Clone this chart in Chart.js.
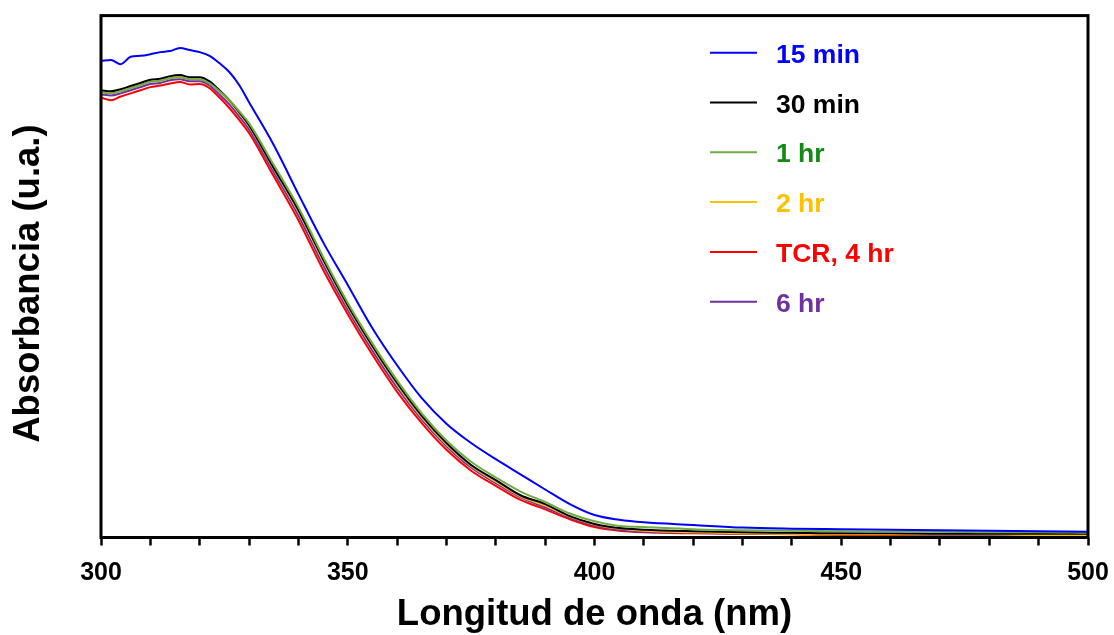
<!DOCTYPE html>
<html lang="es">
<head>
<meta charset="utf-8">
<title>Absorbancia UV-Vis</title>
<script src="https://cdn.jsdelivr.net/npm/chart.js@4.4.1/dist/chart.umd.min.js"></script>
<style>
    html, body { margin: 0; padding: 0; background: #fff; }
    #contenedor { width: 1114px; height: 635px; position: relative; }
</style>
</head>
<body>
<div id="contenedor"><canvas id="espectro"></canvas></div>
<script>
// Longitudes de onda (nm)
var longitudes = [300, 302, 304, 306, 308, 310, 312, 314, 316, 318, 320, 322, 324, 326, 328, 330,
    335, 340, 345, 350, 355, 360, 365, 370, 375, 380, 385, 390, 395, 400, 405, 410,
    420, 430, 440, 450, 460, 470, 480, 490, 500];

// Absorbancia (u.a.) de cada muestra
var abs15min = [0.913, 0.915, 0.907, 0.921, 0.923, 0.926, 0.930, 0.932, 0.938, 0.934, 0.930, 0.923, 0.909, 0.892, 0.867, 0.834,
    0.752, 0.658, 0.566, 0.484, 0.401, 0.330, 0.267, 0.218, 0.181, 0.150, 0.121, 0.092, 0.064, 0.043, 0.034, 0.029,
    0.024, 0.019, 0.017, 0.016, 0.015, 0.014, 0.013, 0.012, 0.011];
var abs30min = [0.857, 0.855, 0.859, 0.865, 0.871, 0.877, 0.879, 0.884, 0.886, 0.882, 0.882, 0.874, 0.857, 0.838, 0.815, 0.790,
    0.708, 0.627, 0.533, 0.445, 0.367, 0.296, 0.233, 0.181, 0.139, 0.110, 0.081, 0.064, 0.041, 0.026, 0.018, 0.015,
    0.012, 0.010, 0.009, 0.008, 0.008, 0.007, 0.007, 0.007, 0.007];
var abs1hr = [0.853, 0.851, 0.855, 0.861, 0.867, 0.873, 0.875, 0.880, 0.882, 0.878, 0.878, 0.870, 0.855, 0.838, 0.817, 0.794,
    0.714, 0.633, 0.538, 0.450, 0.372, 0.301, 0.238, 0.186, 0.145, 0.115, 0.088, 0.068, 0.046, 0.031, 0.022, 0.020,
    0.016, 0.014, 0.013, 0.012, 0.011, 0.011, 0.010, 0.010, 0.009];
var abs2hr = [0.855, 0.852, 0.857, 0.862, 0.869, 0.875, 0.877, 0.882, 0.884, 0.880, 0.880, 0.872, 0.855, 0.836, 0.813, 0.788,
    0.706, 0.624, 0.530, 0.442, 0.364, 0.293, 0.230, 0.178, 0.137, 0.107, 0.079, 0.061, 0.040, 0.025, 0.017, 0.013,
    0.010, 0.008, 0.007, 0.006, 0.006, 0.006, 0.006, 0.005, 0.005];
var abs4hr = [0.843, 0.838, 0.845, 0.851, 0.857, 0.863, 0.866, 0.870, 0.873, 0.868, 0.869, 0.861, 0.843, 0.823, 0.800, 0.775,
    0.692, 0.608, 0.513, 0.428, 0.350, 0.279, 0.219, 0.168, 0.128, 0.099, 0.072, 0.054, 0.035, 0.020, 0.013, 0.010,
    0.008, 0.007, 0.006, 0.005, 0.005, 0.004, 0.004, 0.003, 0.003];
var abs6hr = [0.849, 0.847, 0.851, 0.857, 0.863, 0.869, 0.871, 0.876, 0.878, 0.874, 0.874, 0.866, 0.849, 0.830, 0.807, 0.782,
    0.700, 0.617, 0.522, 0.436, 0.358, 0.287, 0.226, 0.175, 0.134, 0.104, 0.077, 0.058, 0.038, 0.023, 0.015, 0.011,
    0.009, 0.008, 0.007, 0.006, 0.006, 0.005, 0.005, 0.004, 0.004];

// Etiquetas de la leyenda
var etiquetas = ['15 min', '30 min', '1 hr', '2 hr', 'TCR, 4 hr', '6 hr'];

var fuente = "'Liberation Sans', Arial, sans-serif";

// Construye los puntos {x, y} de cada serie
function puntos(valores) {
    return longitudes.map(function (l, i) {
        return { x: l, y: valores[i] };
    });
}

function serie(i, valores, color, colorTexto, orden) {
    return {
        label: etiquetas[i],
        data: puntos(valores),
        borderColor: color,
        colorTexto: colorTexto,
        borderWidth: 2,
        pointRadius: 0,
        cubicInterpolationMode: 'monotone',
        fill: false,
        order: orden
    };
}

// Leyenda dibujada dentro del área del gráfico
var leyendaInterna = {
    id: 'leyendaInterna',
    afterDraw: function (chart) {
        var ctx = chart.ctx;
        var opt = chart.options.plugins.leyendaInterna;
        ctx.save();
        ctx.font = 'bold 26.5px ' + fuente;
        ctx.textBaseline = 'alphabetic';
        ctx.textAlign = 'left';
        chart.data.datasets.forEach(function (ds, i) {
            var y = opt.y0 + i * opt.paso;
            ctx.strokeStyle = ds.borderColor;
            ctx.lineWidth = 2;
            ctx.beginPath();
            ctx.moveTo(opt.x0, y);
            ctx.lineTo(opt.x0 + opt.largo, y);
            ctx.stroke();
            ctx.fillStyle = ds.colorTexto;
            ctx.fillText(ds.label, opt.xTexto, y + 10);
        });
        ctx.restore();
    }
};

// Marco negro alrededor del área y título vertical del eje Y
var marco = {
    id: 'marco',
    afterDatasetsDraw: function (chart) {
        var a = chart.chartArea;
        var ctx = chart.ctx;
        ctx.save();
        ctx.strokeStyle = '#000';
        ctx.lineWidth = 3;
        ctx.strokeRect(a.left, a.top, a.right - a.left, a.bottom - a.top);

        ctx.translate(28.5, (a.top + a.bottom) / 2 + 7);
        ctx.rotate(-Math.PI / 2);
        ctx.fillStyle = '#000';
        ctx.font = 'bold 36.5px ' + fuente;
        ctx.textAlign = 'center';
        ctx.textBaseline = 'middle';
        ctx.fillText('Absorbancia (u.a.)', 0, 0);
        ctx.restore();
    }
};

var ctx = document.getElementById('espectro').getContext('2d');
var grafico = new Chart(ctx, {
    type: 'line',
    data: {
        datasets: [
            serie(0, abs15min, '#0000FF', '#0000FF', 1),
            serie(1, abs30min, '#000000', '#000000', 3),
            serie(2, abs1hr, '#70AD47', '#138A13', 2),
            serie(3, abs2hr, '#FFC000', '#FFC000', 4),
            serie(4, abs4hr, '#FF0000', '#FF0000', 6),
            serie(5, abs6hr, '#7030A0', '#7030A0', 5)
        ]
    },
    options: {
        responsive: true,
        maintainAspectRatio: false,
        animation: false,
        layout: {
            padding: { top: 15.6, right: 26, left: 0, bottom: 0 }
        },
        scales: {
            x: {
                type: 'linear',
                min: 300,
                max: 500,
                grid: {
                    display: true,
                    drawOnChartArea: false,
                    drawTicks: true,
                    tickLength: 8,
                    tickWidth: 2.5,
                    tickColor: '#000'
                },
                border: { display: false },
                ticks: {
                    stepSize: 10,
                    autoSkip: false,
                    maxRotation: 0,
                    padding: 15,
                    color: '#000',
                    font: { family: fuente, size: 25, weight: 'bold', lineHeight: 1 },
                    callback: function (v) {
                        return v % 50 === 0 ? v : '';
                    }
                },
                title: {
                    display: true,
                    text: 'Longitud de onda (nm)',
                    color: '#000',
                    padding: { top: 0, bottom: 1.5 },
                    font: { family: fuente, size: 36.5, weight: 'bold', lineHeight: 1 }
                },
                afterFit: function (escala) {
                    escala.height = 97.5;
                    escala.paddingLeft = 0;
                    escala.paddingRight = 0;
                }
            },
            y: {
                min: 0,
                max: 1,
                grid: { display: false },
                border: { display: false },
                ticks: { display: false },
                afterFit: function (escala) {
                    escala.width = 101;
                }
            }
        },
        plugins: {
            legend: { display: false },
            tooltip: { enabled: false },
            leyendaInterna: { x0: 710, largo: 47, xTexto: 776, y0: 52.7, paso: 49.8 }
        }
    },
    plugins: [marco, leyendaInterna]
});
</script>
</body>
</html>
